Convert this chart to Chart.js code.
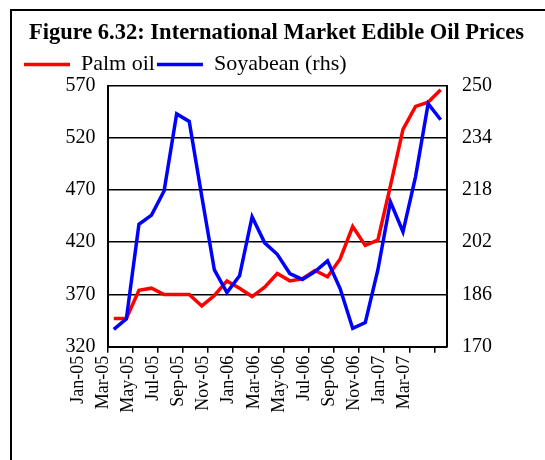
<!DOCTYPE html>
<html>
<head>
<meta charset="utf-8">
<script src="https://cdn.jsdelivr.net/npm/chart.js@4/dist/chart.umd.min.js"></script>
<style>
  html, body { margin: 0; padding: 0; background: #fff; overflow: hidden; }
  #frame { position: absolute; left: 10px; top: 9px; width: 600px; height: 600px; border: 2px solid #000; }
  #wrap { position: absolute; left: 0; top: 0; width: 545px; height: 460px; }
</style>
</head>
<body>
<div id="frame"></div>
<div id="wrap"><canvas id="oil"></canvas></div>
<script>
// monthly prices, Jan-05 .. Mar-07
var months = ['Jan-05','Feb-05','Mar-05','Apr-05','May-05','Jun-05','Jul-05','Aug-05','Sep-05','Oct-05','Nov-05','Dec-05',
              'Jan-06','Feb-06','Mar-06','Apr-06','May-06','Jun-06','Jul-06','Aug-06','Sep-06','Oct-06','Nov-06','Dec-06',
              'Jan-07','Feb-07','Mar-07'];
var palmOil = [347, 347, 374, 376, 370, 370, 370, 359, 369, 383, 376, 368, 377, 390,
               383, 385, 393, 387, 404, 435, 417, 422, 474, 528, 550, 554, 566];
var soyabean = [175.3, 178.5, 207.5, 210.3, 217.7, 241.3, 239, 216, 193.5, 186.6, 191.7, 209.8, 201.8, 198.3,
                192.4, 190.6, 193, 196.3, 187.8, 175.6, 177.4, 193.5, 214.4, 205.2, 222.1, 244.4, 239.5];

// axis ranges
var leftMin = 320, leftMax = 570, leftStep = 50;
var rightMin = 170, rightMax = 250, rightStep = 16;

Chart.defaults.font.family = '"Liberation Serif", "Times New Roman", serif';
Chart.defaults.color = '#000';

var ctx = document.getElementById('oil').getContext('2d');
var chart = new Chart(ctx, {
    type: 'line',
    data: {
        labels: months,
        datasets: [{
            label: 'Palm oil',
            data: palmOil,
            borderColor: '#ff0000',
            backgroundColor: '#ff0000',
            borderWidth: 3.5,
            pointRadius: 0,
            yAxisID: 'y',
            order: 1
        }, {
            label: 'Soyabean (rhs)',
            data: soyabean,
            borderColor: '#0000ff',
            backgroundColor: '#0000ff',
            borderWidth: 3.5,
            pointRadius: 0,
            yAxisID: 'y1',
            order: 0
        }]
    },
    options: {
        responsive: true,
        maintainAspectRatio: false,
        animation: false,
        layout: { padding: { top: 1.2, left: 22, right: 14, bottom: 0 } },
        plugins: {
            title: {
                display: true,
                text: 'Figure 6.32: International Market Edible Oil Prices',
                font: { size: 22.5, weight: 'bold' },
                padding: { top: 18.3, bottom: 5 }
            },
            legend: {
                display: true,
                align: 'start',
                labels: {
                    font: { size: 22 },
                    boxWidth: 46,
                    boxHeight: 0,
                    padding: 2,
                    sort: function(a, b){ return a.datasetIndex - b.datasetIndex; }
                }
            },
            tooltip: { enabled: false }
        },
        scales: {
            x: {
                offset: true,
                grid: {
                    offset: true,
                    drawOnChartArea: false,
                    drawTicks: true,
                    tickLength: 6,
                    lineWidth: 1.5,
                    color: function(c){ return c.index % 2 == 0 ? '#000' : 'rgba(0,0,0,0)'; }
                },
                border: { color: '#000', width: 2 },
                ticks: {
                    autoSkip: false,
                    minRotation: 90,
                    maxRotation: 90,
                    labelOffset: -36,
                    padding: 3,
                    font: { size: 18 },
                    callback: function(v, i){ return i % 2 == 0 ? months[i] : ''; }
                },
                afterFit: function(s){ s.height = 113.3; }
            },
            y: {
                position: 'left',
                min: leftMin,
                max: leftMax,
                ticks: { stepSize: leftStep, padding: 12, font: { size: 20 } },
                grid: { color: '#000', lineWidth: 1.5, drawTicks: false },
                border: { color: '#000', width: 2 },
                afterFit: function(s){ s.width = 85.5; }
            },
            y1: {
                position: 'right',
                min: rightMin,
                max: rightMax,
                ticks: { stepSize: rightStep, padding: 15, font: { size: 20 } },
                grid: { drawOnChartArea: false, drawTicks: false },
                border: { color: '#000', width: 2 },
                afterFit: function(s){ s.width = 84; }
            }
        }
    }
});
</script>
</body>
</html>
